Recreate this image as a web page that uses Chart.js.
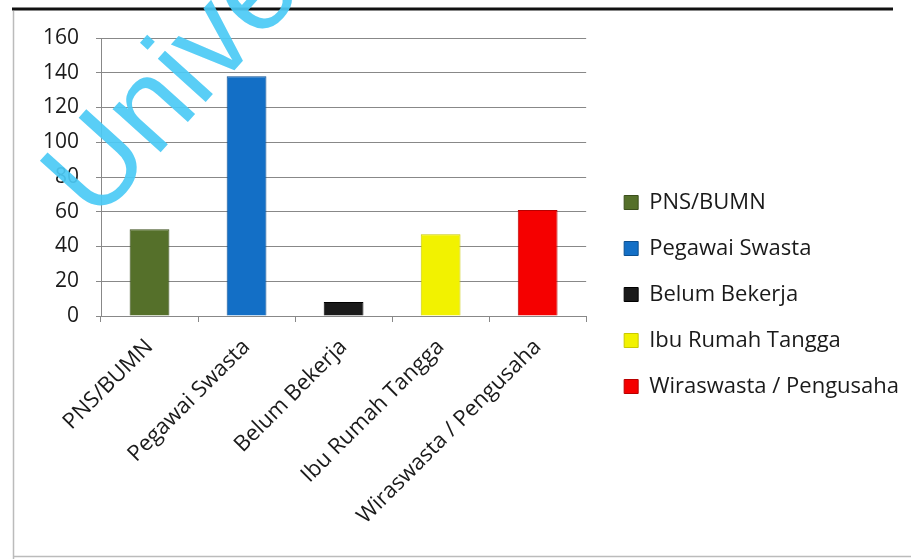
<!DOCTYPE html>
<html>
<head>
<meta charset="utf-8">
<script src="https://cdn.jsdelivr.net/npm/chart.js@4.4.1/dist/chart.umd.min.js"></script>
<style>
  html, body { margin: 0; padding: 0; background: #fff; }
  #wrap { position: relative; width: 911px; height: 559px; }
</style>
</head>
<body>
<div id="wrap"><canvas id="jobChart" width="911" height="559"></canvas></div>
<script>
// Data pekerjaan
const categories = ['PNS/BUMN', 'Pegawai Swasta', 'Belum Bekerja', 'Ibu Rumah Tangga', 'Wiraswasta / Pengusaha'];
const counts = [50, 138, 8, 47, 61];
const barColors = ['#55702a', '#136fc6', '#1a1a1a', '#f2f200', '#f50000'];
const barBorders = ['#3b4f1c', '#0b4f91', '#000000', '#c9c900', '#b80000'];
const yTicks = [0, 20, 40, 60, 80, 100, 120, 140, 160];
const watermarkText = 'Universitas';

const fontFamily = "'Open Sans', 'Liberation Sans', sans-serif";

// Bingkai dan watermark
const framePlugin = {
    id: 'frame',
    beforeDraw(chart) {
        const c = chart.ctx;
        c.save();
        c.fillStyle = '#fff';
        c.fillRect(0, 0, chart.width, chart.height);
        c.strokeStyle = '#111';
        c.lineWidth = 3;
        c.beginPath(); c.moveTo(12, 9); c.lineTo(893, 9); c.stroke();
        c.strokeStyle = '#bbb';
        c.lineWidth = 1.5;
        c.beginPath(); c.moveTo(13.5, 11); c.lineTo(13.5, 559); c.stroke();
        c.beginPath(); c.moveTo(13, 556.5); c.lineTo(911, 556.5); c.stroke();
        c.restore();
    },
    afterDraw(chart) {
        const c = chart.ctx;
        c.save();
        c.translate(96, 224);
        c.rotate(-48 * Math.PI / 180);
        c.font = "122px 'Liberation Sans', sans-serif";
        c.fillStyle = 'rgba(75, 202, 245, 0.92)';
        c.textBaseline = 'alphabetic';
        c.fillText(watermarkText, 0, 0);
        c.restore();
    }
};

const ctx = document.getElementById('jobChart').getContext('2d');
const jobChart = new Chart(ctx, {
    type: 'bar',
    data: {
        labels: categories,
        datasets: [{
            label: 'Pekerjaan',
            data: counts,
            backgroundColor: barColors,
            borderColor: barBorders,
            borderWidth: 1,
            barPercentage: 0.41,
            categoryPercentage: 1
        }]
    },
    options: {
        responsive: false,
        animation: false,
        layout: { padding: { left: 13, top: 38, right: 2, bottom: 8 } },
        plugins: {
            tooltip: { enabled: false },
            legend: {
                position: 'right',
                maxWidth: 330,
                labels: {
                    font: { family: fontFamily, size: 22 },
                    color: '#1a1a1a',
                    boxWidth: 14,
                    boxHeight: 14,
                    padding: 24,
                    generateLabels: (chart) => categories.map((name, i) => ({
                        text: name,
                        fillStyle: barColors[i],
                        strokeStyle: barBorders[i],
                        lineWidth: 1,
                        fontColor: '#1a1a1a',
                        index: i
                    }))
                }
            }
        },
        scales: {
            x: {
                grid: { display: true, drawOnChartArea: false, color: '#888', tickLength: 6, offset: true },
                border: { color: '#888' },
                ticks: {
                    font: { family: fontFamily, size: 22 },
                    color: '#1a1a1a',
                    maxRotation: 45,
                    minRotation: 45,
                    padding: 12
                },
                afterFit: (scale) => { scale.height = 235; }
            },
            y: {
                min: 0,
                max: 160,
                afterBuildTicks: (scale) => { scale.ticks = yTicks.map(v => ({ value: v })); },
                grid: { color: '#888', tickLength: 5 },
                border: { color: '#888' },
                ticks: {
                    font: { family: fontFamily, size: 21 },
                    color: '#1a1a1a',
                    padding: 17
                },
                afterFit: (scale) => { scale.width = 88; }
            },
            // jarak kosong antara plot dan legenda
            gap: {
                type: 'linear',
                position: 'right',
                grid: { display: false },
                border: { display: false },
                ticks: { display: false },
                afterFit: (scale) => { scale.width = 14; }
            }
        }
    },
    plugins: [framePlugin]
});
</script>
</body>
</html>
